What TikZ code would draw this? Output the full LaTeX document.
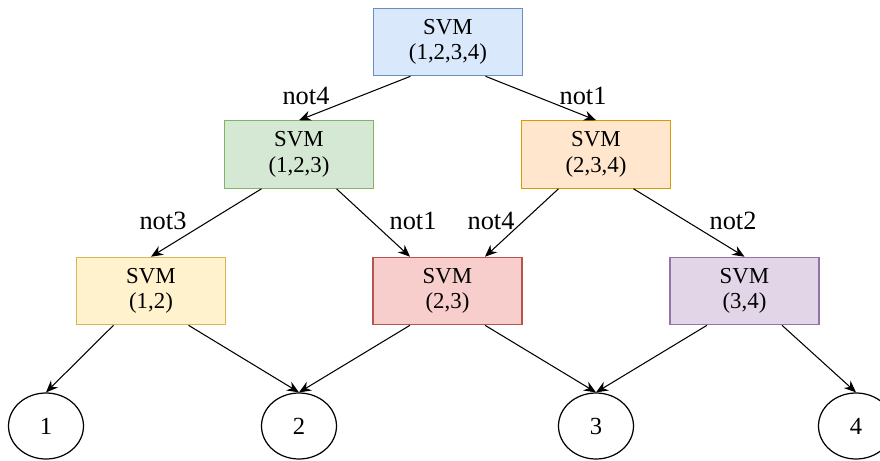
\documentclass[tikz,border=0pt]{standalone}
\usepackage{fontspec}
\setmainfont{Liberation Serif}
\usepackage[table]{xcolor}
\usetikzlibrary{shapes.geometric, arrows.meta}

\definecolor{blueF}{HTML}{DAE8FC}\definecolor{blueD}{HTML}{6C8EBF}
\definecolor{greenF}{HTML}{D5E8D4}\definecolor{greenD}{HTML}{82B366}
\definecolor{orangeF}{HTML}{FFE6CC}\definecolor{orangeD}{HTML}{D79B00}
\definecolor{yellowF}{HTML}{FFF2CC}\definecolor{yellowD}{HTML}{D6B656}
\definecolor{redF}{HTML}{F8CECC}\definecolor{redD}{HTML}{B85450}
\definecolor{purpleF}{HTML}{E1D5E7}\definecolor{purpleD}{HTML}{9673A6}

\begin{document}
\begin{tikzpicture}[
  box/.style={rectangle, draw, line width=0.6pt, minimum width=2.98cm, minimum height=1.35cm, align=center, font=\fontsize{13}{14.5}\selectfont},
  leaf/.style={ellipse, draw, line width=0.7pt, minimum width=1.5cm, minimum height=1.32cm, inner sep=0pt, font=\fontsize{14}{15}\selectfont},
  lbl/.style={inner sep=1pt, font=\fontsize{15}{16}\selectfont},
  link/.style={->, line width=0.6pt, >={Stealth[length=2.4mm, width=2mm]}}]
\useasboundingbox (0,0) rectangle (17.6,9.2);
\node[box, fill=blueF, draw=blueD] (N0) at (8.960, 8.360) {SVM\\(1,2,3,4)};
\node[box, fill=greenF, draw=greenD] (N1) at (5.980, 6.110) {SVM\\(1,2,3)};
\node[box, fill=orangeF, draw=orangeD] (N2) at (11.920, 6.110) {SVM\\(2,3,4)};
\node[box, fill=yellowF, draw=yellowD] (N3) at (3.020, 3.380) {SVM\\(1,2)};
\node[box, fill=redF, draw=redD] (N4) at (8.950, 3.380) {SVM\\(2,3)};
\node[box, fill=purpleF, draw=purpleD] (N5) at (14.890, 3.380) {SVM\\(3,4)};
\node[leaf] (C1) at (0.920, 0.680) {1};
\node[leaf] (C2) at (5.980, 0.680) {2};
\node[leaf] (C3) at (11.920, 0.680) {3};
\node[leaf] (C4) at (17.120, 0.680) {4};
\node[lbl] (L0) at (6.120, 7.280) {not4};
\node[lbl] (L1) at (11.660, 7.280) {not1};
\node[lbl] (L2) at (3.260, 4.780) {not3};
\node[lbl] (L3) at (8.260, 4.780) {not1};
\node[lbl] (L4) at (9.820, 4.780) {not4};
\node[lbl] (L5) at (14.660, 4.780) {not2};
\draw[link] ([xshift=-0.75cm]N0.south) -- (N1.north);
\draw[link] ([xshift=0.75cm]N0.south) -- (N2.north);
\draw[link] ([xshift=-0.75cm]N1.south) -- (N3.north);
\draw[link] ([xshift=0.75cm]N1.south) -- ([xshift=-0.75cm]N4.north);
\draw[link] ([xshift=-0.75cm]N2.south) -- ([xshift=0.75cm]N4.north);
\draw[link] ([xshift=0.75cm]N2.south) -- (N5.north);
\draw[link] ([xshift=-0.75cm]N3.south) -- (C1.north);
\draw[link] ([xshift=0.75cm]N3.south) -- (C2.north);
\draw[link] ([xshift=-0.75cm]N4.south) -- (C2.north);
\draw[link] ([xshift=0.75cm]N4.south) -- (C3.north);
\draw[link] ([xshift=-0.75cm]N5.south) -- (C3.north);
\draw[link] ([xshift=0.75cm]N5.south) -- (C4.north);
\end{tikzpicture}
\end{document}
